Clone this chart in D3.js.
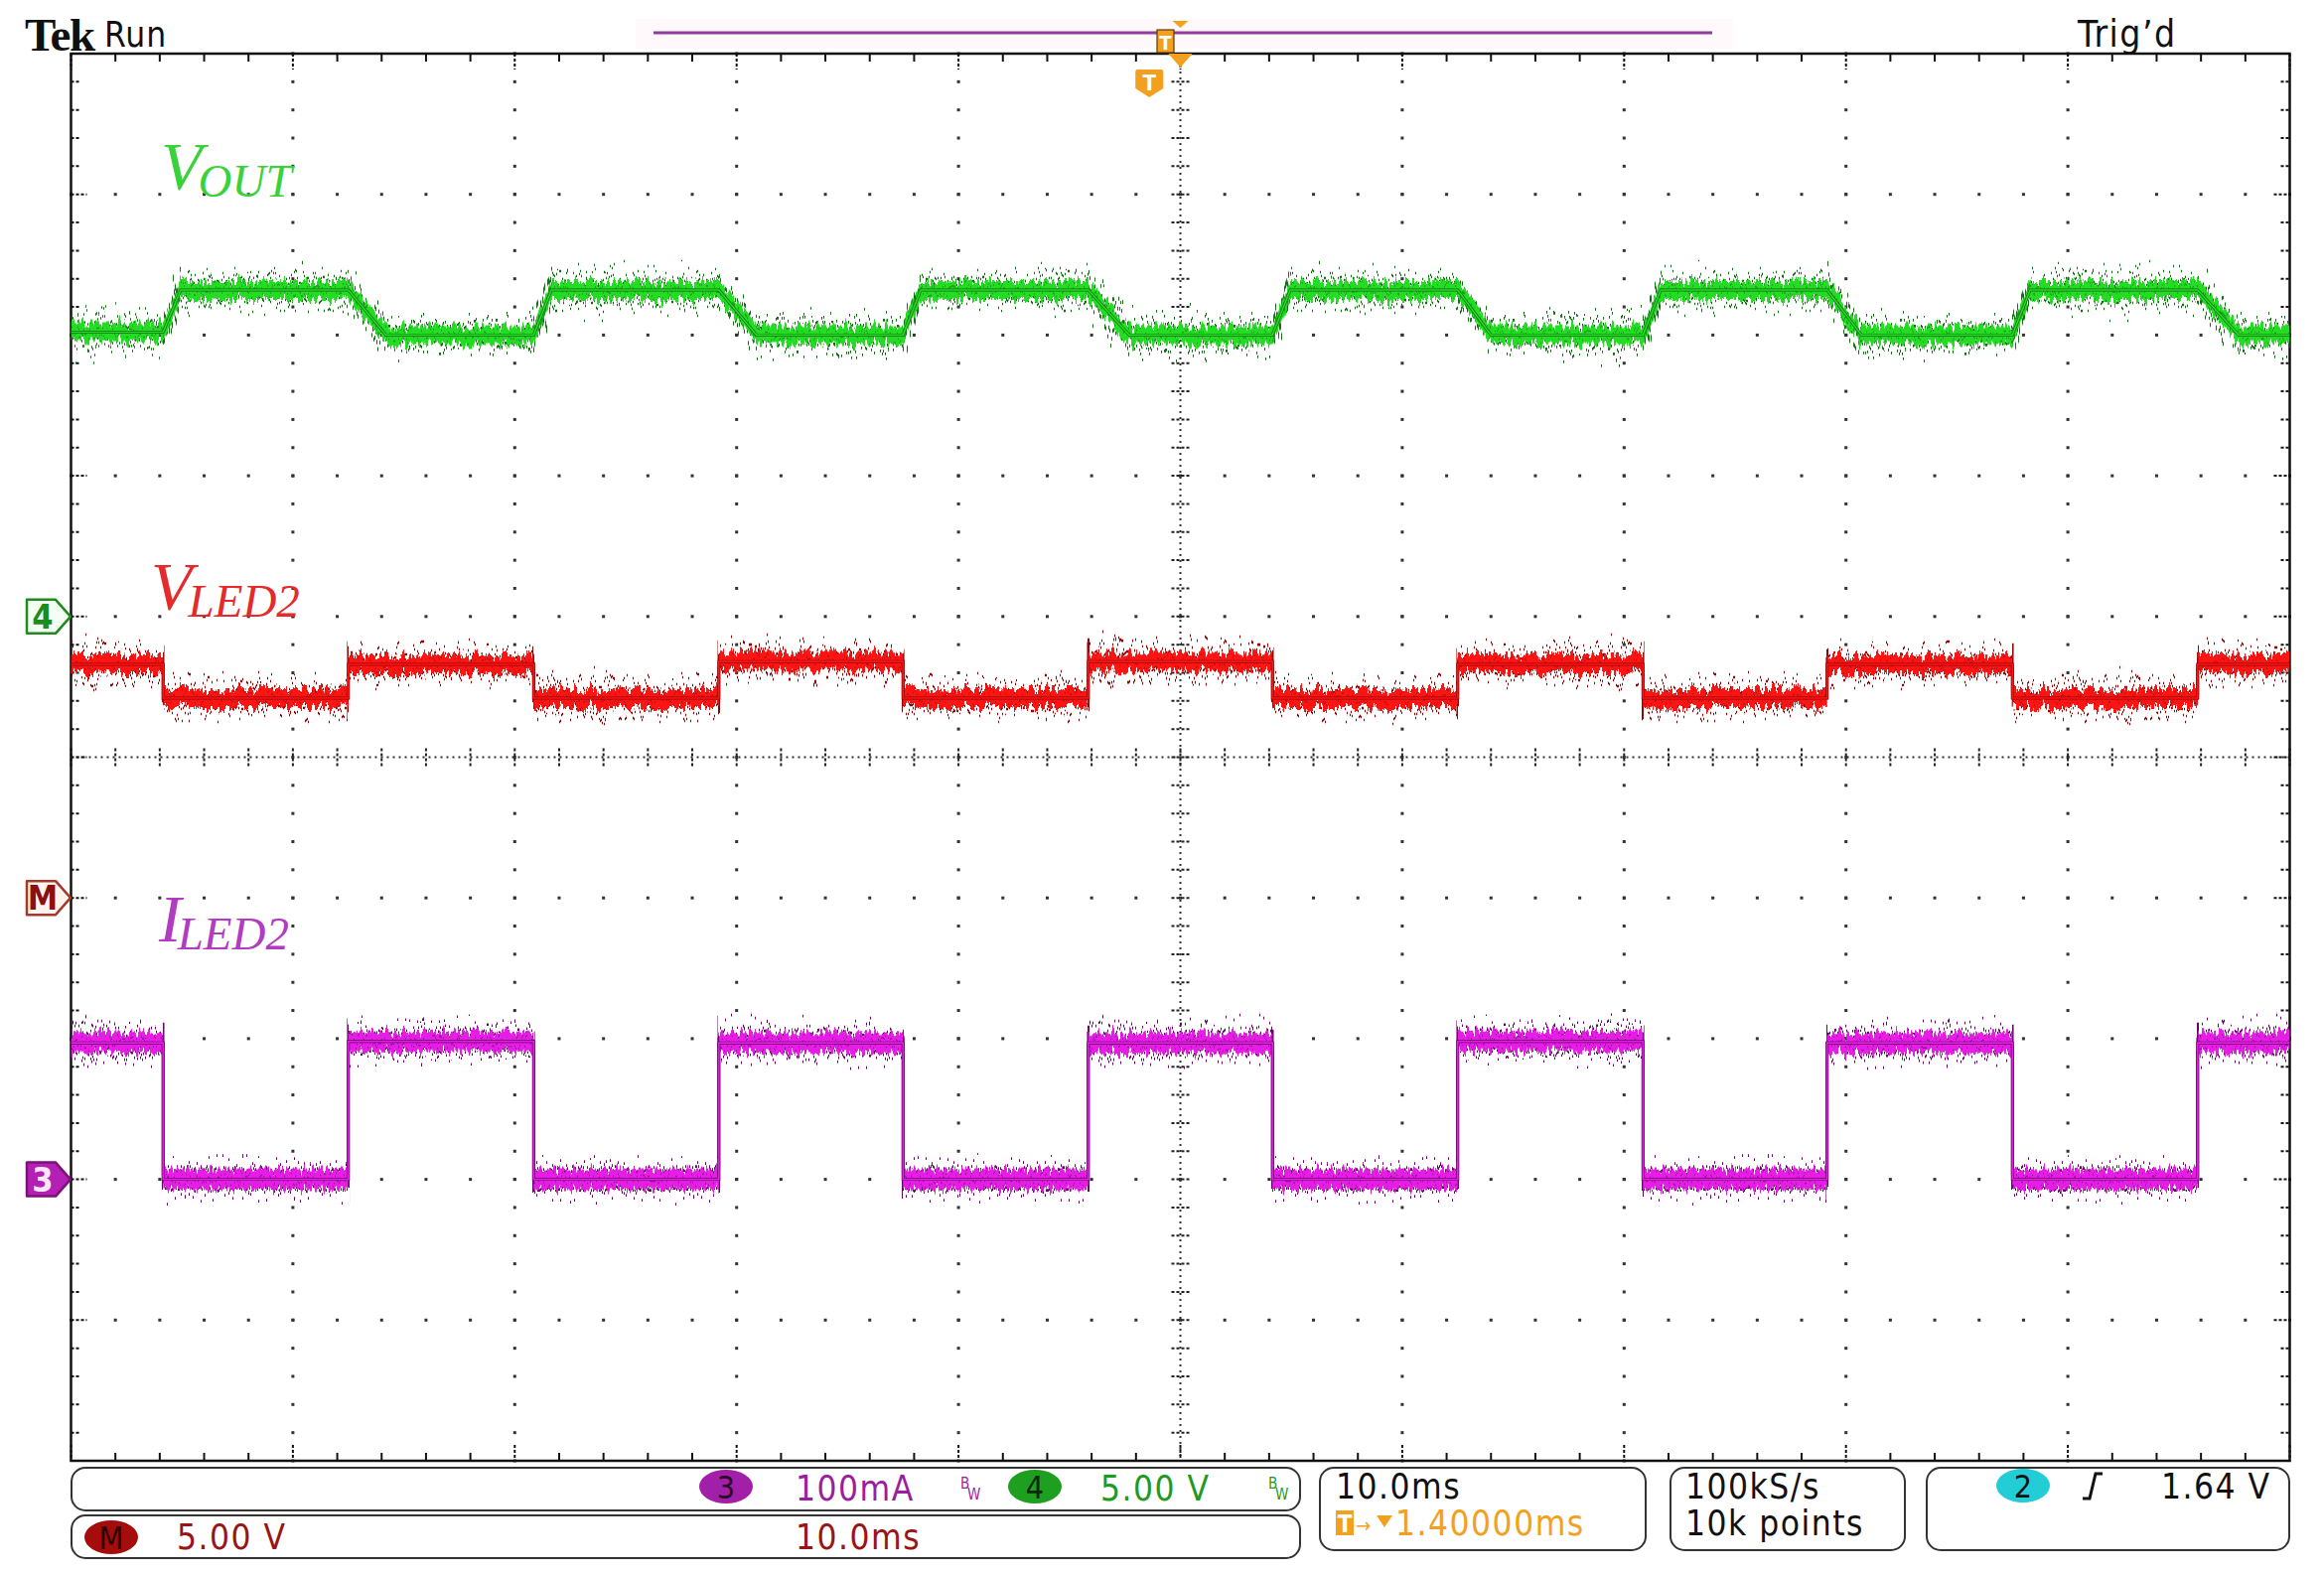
<!DOCTYPE html>
<html><head><meta charset="utf-8">
<script src="https://cdn.jsdelivr.net/npm/d3@7/dist/d3.min.js"></script>
<style>html,body{margin:0;padding:0;background:#fff;} svg{display:block}</style>
</head><body>
<svg id="c" width="2340" height="1584"></svg>
<script>
// ---------------- data ----------------
const timeDomain = [-50, 50];          // ms, 10 ms/div, 10 divisions
const divDomain = [-5, 5];             // vertical divisions
// ILED2 / VLED2 switching edges (ms)
const edgeTimes = [-45.85, -37.5, -29.15, -20.8, -12.5, -4.15, 4.15, 12.5, 20.85, 29.15, 37.5, 45.85];
// per-segment plateau values (13 segments between the edges)
const iledLevels = [97, 0, 98, 0, 97, 0, 97, 0, 98, 0, 97, 0, 97];               // mA (ch3, 100 mA/div)
const vledLevels = [8.3, 7.1, 8.3, 7.1, 8.4, 7.1, 8.4, 7.1, 8.3, 7.1, 8.3, 7.1, 8.3]; // V (Math, 5 V/div)
// VOUT breakpoints (ch4, 5 V/div)
const voutTimes  = [-50, -45.85, -45.05, -37.5, -35.8, -29.15, -28.35, -20.8, -19.1, -12.5, -11.7, -4.15, -2.3, 4.15, 4.95, 12.5, 14.0, 20.85, 21.65, 29.15, 30.7, 37.5, 38.3, 45.85, 47.7, 50];
const voutValues = [10.1, 10.1, 11.6, 11.6, 10.0, 10.0, 11.6, 11.6, 10.0, 10.0, 11.6, 11.6, 10.0, 10.0, 11.6, 11.6, 10.0, 10.0, 11.6, 11.6, 10.0, 10.0, 11.6, 11.6, 10.0, 10.0];
// channel settings
const chScale = {ch3: 100, ch4: 5, math: 5};     // units per division
const chOffset = {ch3: -3, ch4: 1, math: -1};    // ground position (divisions from centre)
// status text
const headerLeft = ["Tek", "Run"];
const headerRight = "Trig’d";
const ch3Label = "100mA", ch4Label = "5.00 V", mathLabel = "5.00 V", mathTime = "10.0ms";
const timebase = "10.0ms", trigPos = "1.40000ms";
const sampleRate = "100kS/s", recordLen = "10k points";
const trigSource = "2", trigLevel = "1.64 V";

// ---------------- layout ----------------
const L = 71.5, R = 2305.5, T = 54, B = 1471;
const svg = d3.select("#c");
svg.append("rect").attr("width", 2340).attr("height", 1584).attr("fill", "#fff");

const x = d3.scaleLinear().domain(timeDomain).range([L, R]);
const yDiv = d3.scaleLinear().domain(divDomain).range([B, T]);
const mk = (ch) => d3.scaleLinear()
  .domain([(divDomain[0] - chOffset[ch]) * chScale[ch], (divDomain[1] - chOffset[ch]) * chScale[ch]])
  .range([B, T]);
const y3 = mk("ch3"), y4 = mk("ch4"), yM = mk("math");

// ---------------- defs ----------------
const defs = svg.append("defs");
defs.append("clipPath").attr("id", "plotClip").append("rect")
  .attr("x", L).attr("y", T).attr("width", R - L).attr("height", B - T);
function noiseFilter(id, freq, scale, seed) {
  const f = defs.append("filter").attr("id", id).attr("filterUnits", "userSpaceOnUse")
    .attr("x", 0).attr("y", 0).attr("width", 2340).attr("height", 1584)
    .attr("color-interpolation-filters", "sRGB");
  f.append("feTurbulence").attr("type", "fractalNoise").attr("baseFrequency", freq)
    .attr("numOctaves", 2).attr("seed", seed).attr("result", "n");
  f.append("feColorMatrix").attr("in", "n").attr("type", "matrix")
    .attr("values", "0 0 0 0 0.5  0 1 0 0 0  0 0 0 0 0  0 0 0 0 1").attr("result", "m");
  f.append("feDisplacementMap").attr("in", "SourceGraphic").attr("in2", "m")
    .attr("scale", scale).attr("xChannelSelector", "R").attr("yChannelSelector", "G");
}
noiseFilter("spk1", "0.5 0.0008", 64, 3);
noiseFilter("spk2", "0.5 0.0008", 64, 11);
noiseFilter("spk3", "0.4 0.0008", 44, 19);
noiseFilter("jit", "0.35 0.0008", 22, 7);

// ---------------- graticule ----------------
const grid = svg.append("g");
const minorT = d3.range(timeDomain[0], timeDomain[1] + 0.001, 2);
const minorD = d3.range(divDomain[0], divDomain[1] + 0.001, 0.2);
const majorT = d3.range(-40, 41, 10).filter(t => t !== 0);
const majorD = d3.range(-4, 5, 1).filter(d => d !== 0);
const dots = [];
majorT.forEach(t => minorD.forEach(d => dots.push([x(t), yDiv(d)])));
majorD.forEach(d => minorT.forEach(t => dots.push([x(t), yDiv(d)])));
grid.selectAll("rect.dot").data(dots).join("rect").attr("class", "dot")
  .attr("x", d => d[0] - 1.5).attr("y", d => d[1] - 1.5).attr("width", 3).attr("height", 3).attr("fill", "#333");
// centre cross
grid.append("line").attr("x1", x(0)).attr("x2", x(0)).attr("y1", T).attr("y2", B)
  .attr("stroke", "#333").attr("stroke-width", 2).attr("stroke-dasharray", "2,4");
grid.append("line").attr("x1", L).attr("x2", R).attr("y1", yDiv(0)).attr("y2", yDiv(0))
  .attr("stroke", "#333").attr("stroke-width", 2).attr("stroke-dasharray", "2,4");
minorD.forEach(d => grid.append("line").attr("x1", x(0) - 9).attr("x2", x(0) + 10).attr("y1", yDiv(d)).attr("y2", yDiv(d))
  .attr("stroke", "#222").attr("stroke-width", 2).attr("stroke-dasharray", "3,2"));
minorT.forEach(t => grid.append("line").attr("y1", yDiv(0) - 9).attr("y2", yDiv(0) + 10).attr("x1", x(t)).attr("x2", x(t))
  .attr("stroke", "#222").attr("stroke-width", 2).attr("stroke-dasharray", "3,2"));
// border ticks
minorT.forEach(t => {
  const major = Math.abs(t % 10) < 0.01;
  const len = major ? 16 : 8;
  grid.append("line").attr("x1", x(t)).attr("x2", x(t)).attr("y1", T).attr("y2", T + len)
    .attr("stroke", "#111").attr("stroke-width", 2).attr("stroke-dasharray", major ? "3,2" : null);
  grid.append("line").attr("x1", x(t)).attr("x2", x(t)).attr("y1", B - len).attr("y2", B)
    .attr("stroke", "#111").attr("stroke-width", 2).attr("stroke-dasharray", major ? "3,2" : null);
});
minorD.forEach(d => {
  const major = Math.abs(d - Math.round(d)) < 0.01;
  const len = major ? 16 : 9;
  grid.append("line").attr("x1", L).attr("x2", L + len).attr("y1", yDiv(d)).attr("y2", yDiv(d))
    .attr("stroke", "#111").attr("stroke-width", 2).attr("stroke-dasharray", "3,2");
  grid.append("line").attr("x1", R - len).attr("x2", R).attr("y1", yDiv(d)).attr("y2", yDiv(d))
    .attr("stroke", "#111").attr("stroke-width", 2).attr("stroke-dasharray", "3,2");
});
grid.append("rect").attr("x", L).attr("y", T).attr("width", R - L).attr("height", B - T)
  .attr("fill", "none").attr("stroke", "#111").attr("stroke-width", 2.5);

// ---------------- traces ----------------
function stepPoints(edges, levels) {
  const pts = [[timeDomain[0], levels[0]]];
  edges.forEach((e, i) => { pts.push([e, levels[i]]); pts.push([e, levels[i + 1]]); });
  pts.push([timeDomain[1], levels[levels.length - 1]]);
  return pts;
}
const iledPts = stepPoints(edgeTimes, iledLevels);
const vledPts = stepPoints(edgeTimes, vledLevels);
const voutPts = voutTimes.map((t, i) => [t, voutValues[i]]);

function drawTrace(pts, ys, bright, dark, band) {
  const g = svg.append("g").attr("clip-path", "url(#plotClip)");
  [[-band / 2 + 1, "spk1"], [band / 2 - 1, "spk2"]].forEach(([off, f]) => {
    g.append("path").datum(pts)
      .attr("d", d3.line().x(d => x(d[0])).y(d => ys(d[1]) + off))
      .attr("fill", "none").attr("stroke", dark).attr("stroke-width", 2.6).attr("filter", `url(#${f})`);
  });
  g.append("path").datum(pts)
    .attr("d", d3.area().x(d => x(d[0])).y0(d => ys(d[1]) + band / 2).y1(d => ys(d[1]) - band / 2))
    .attr("fill", bright).attr("filter", "url(#jit)");
  g.append("path").datum(pts)
    .attr("d", d3.line().x(d => x(d[0])).y(d => ys(d[1])))
    .attr("fill", "none").attr("stroke", dark).attr("stroke-width", 1.5).attr("stroke-opacity", 0.6)
    .attr("filter", "url(#spk3)");
  g.append("path").datum(pts)
    .attr("d", d3.line().x(d => x(d[0])).y(d => ys(d[1])))
    .attr("fill", "none").attr("stroke", dark).attr("stroke-width", 3);
  g.append("path").datum(pts)
    .attr("d", d3.line().x(d => x(d[0])).y(d => ys(d[1])))
    .attr("fill", "none").attr("stroke", bright).attr("stroke-width", 1.6);
}
drawTrace(voutPts, y4, "#24dc24", "#146e14", 18);
drawTrace(vledPts, yM, "#ff1414", "#8e0808", 18);
drawTrace(iledPts, y3, "#e51de5", "#640866", 20);

// ---------------- trace labels ----------------
const serif = "'Liberation Serif', 'DejaVu Serif', serif";
function label(xp, yp, main, sub, color) {
  const t = svg.append("text").attr("x", xp).attr("y", yp).attr("fill", color)
    .attr("font-family", serif).attr("font-style", "italic");
  t.append("tspan").attr("font-size", 68).text(main);
  t.append("tspan").attr("font-size", 47).attr("dy", 8).attr("dx", -4).text(sub);
}
label(162, 190, "V", "OUT", "#3ad23a");
label(152, 613, "V", "LED2", "#e42a2a");
label(160, 948, "I", "LED2", "#b03cc0");

// ---------------- ground markers ----------------
function marker(yp, txt, fill, stroke, tcol) {
  const g = svg.append("g");
  g.append("path").attr("d", `M27,${yp - 17} L56,${yp - 17} L71,${yp} L56,${yp + 17} L27,${yp + 17} Z`)
    .attr("fill", fill).attr("stroke", stroke).attr("stroke-width", 2.5).attr("stroke-linejoin", "round");
  g.append("text").attr("x", 43).attr("y", yp + 12).attr("text-anchor", "middle")
    .attr("font-family", "'DejaVu Sans Condensed', 'DejaVu Sans', sans-serif").attr("font-weight", "bold")
    .attr("font-size", 34).attr("fill", tcol).text(txt);
}
marker(y4(0), "4", "#f2fff2", "#1c8c1c", "#1c8c1c");
marker(yM(0), "M", "#fff3ef", "#a33a2a", "#8a1010");
marker(y3(0), "3", "#b41fb4", "#7a127a", "#ffe6ff");

// ---------------- header ----------------
const cond = "'DejaVu Sans Condensed', 'Liberation Sans Narrow', sans-serif";
svg.append("text").attr("x", 25).attr("y", 51).attr("font-family", serif).attr("font-weight", "bold")
  .attr("font-size", 47).attr("letter-spacing", -1.5).attr("fill", "#111").text(headerLeft[0]);
svg.append("text").attr("x", 105).attr("y", 47).attr("font-family", cond)
  .attr("font-size", 35).attr("letter-spacing", 1).attr("fill", "#111").text(headerLeft[1]);
svg.append("text").attr("x", 2092).attr("y", 47).attr("font-family", cond)
  .attr("font-size", 37).attr("letter-spacing", 1.5).attr("fill", "#111").text(headerRight);
// record view bar
svg.append("rect").attr("x", 640).attr("y", 19).attr("width", 1105).attr("height", 30).attr("fill", "#fff9fb");
svg.append("line").attr("x1", 658).attr("x2", 1724).attr("y1", 33).attr("y2", 33)
  .attr("stroke", "#8e3f9e").attr("stroke-width", 3);
const orange = "#f2a01e";
const trigX = x(-1.4);
// small T on record bar
svg.append("rect").attr("x", 1165).attr("y", 30).attr("width", 17).attr("height", 23)
  .attr("fill", orange).attr("stroke", "#5a3a10").attr("stroke-width", 1.2);
svg.append("text").attr("x", 1173.5).attr("y", 50).attr("text-anchor", "middle").attr("font-family", cond)
  .attr("font-weight", "bold").attr("font-size", 20).attr("fill", "#fff").text("T");
svg.append("path").attr("d", `M${x(0) - 8},21 L${x(0) + 8},21 L${x(0)},28 Z`).attr("fill", orange);
svg.append("path").attr("d", `M${x(0) - 12},54 L${x(0) + 12},54 L${x(0)},68 Z`).attr("fill", orange);
// trigger position shield
svg.append("path").attr("d", `M${trigX - 14},72 Q${trigX - 14},70 ${trigX - 12},70 L${trigX + 12},70 Q${trigX + 14},70 ${trigX + 14},72 L${trigX + 14},89 L${trigX},98 L${trigX - 14},89 Z`)
  .attr("fill", orange);
svg.append("text").attr("x", trigX).attr("y", 91).attr("text-anchor", "middle").attr("font-family", cond)
  .attr("font-weight", "bold").attr("font-size", 22).attr("fill", "#fff").text("T");

// ---------------- status bar ----------------
const sb = svg.append("g").attr("font-family", cond).attr("font-size", 35).attr("letter-spacing", 1.5);
function box(x0, y0, w, h) {
  sb.append("rect").attr("x", x0).attr("y", y0).attr("width", w).attr("height", h).attr("rx", 14).attr("ry", 14)
    .attr("fill", "#fff").attr("stroke", "#333").attr("stroke-width", 2);
}
box(72, 1478, 1237, 43);
box(72, 1526, 1237, 43);
box(1329, 1478, 328, 83);
box(1682, 1478, 236, 83);
box(1940, 1478, 365, 83);
function chip(cx, cy, txt, fill, tcol) {
  sb.append("ellipse").attr("cx", cx).attr("cy", cy).attr("rx", 27).attr("ry", 17).attr("fill", fill);
  sb.append("text").attr("x", cx).attr("y", cy + 12).attr("text-anchor", "middle").attr("font-size", 32)
    .attr("letter-spacing", 0).attr("fill", tcol).text(txt);
}
function bw(x0, y0, col) {
  sb.append("text").attr("x", x0).attr("y", y0 - 9).attr("font-size", 15).attr("letter-spacing", 0).attr("fill", col).text("B");
  sb.append("text").attr("x", x0 + 7).attr("y", y0 + 2).attr("font-size", 15).attr("letter-spacing", 0).attr("fill", col).text("W");
}
chip(731, 1497, "3", "#a21fa8", "#2a0a2a");
sb.append("text").attr("x", 801).attr("y", 1511).attr("fill", "#9a1fa0").text(ch3Label);
bw(967, 1508, "#9a1fa0");
chip(1042, 1497, "4", "#1f9f1f", "#0a2a0a");
sb.append("text").attr("x", 1108).attr("y", 1511).attr("fill", "#1f9a1f").text(ch4Label);
bw(1277, 1508, "#1f9a1f");
chip(112, 1548, "M", "#a50d0d", "#2a0000");
sb.append("text").attr("x", 178).attr("y", 1560).attr("fill", "#9a1414").text(mathLabel);
sb.append("text").attr("x", 801).attr("y", 1560).attr("fill", "#9a1414").text(mathTime);
sb.append("text").attr("x", 1345).attr("y", 1509).attr("fill", "#111").text(timebase);
sb.append("rect").attr("x", 1345).attr("y", 1521).attr("width", 18).attr("height", 25).attr("fill", orange);
sb.append("text").attr("x", 1354).attr("y", 1543).attr("text-anchor", "middle").attr("font-size", 24)
  .attr("letter-spacing", 0).attr("font-weight", "bold").attr("fill", "#fff").text("T");
sb.append("text").attr("x", 1365).attr("y", 1543).attr("font-size", 20).attr("fill", orange).text("→");
sb.append("path").attr("d", "M1386,1526 L1402,1526 L1394,1538 Z").attr("fill", orange);
sb.append("text").attr("x", 1405).attr("y", 1546).attr("fill", orange).text(trigPos);
sb.append("text").attr("x", 1697).attr("y", 1509).attr("fill", "#111").text(sampleRate);
sb.append("text").attr("x", 1697).attr("y", 1546).attr("fill", "#111").text(recordLen);
chip(2037, 1496, trigSource, "#22cdd6", "#111");
sb.append("path").attr("d", "M2097,1509 L2104,1509 L2110,1484 L2117,1484").attr("fill", "none")
  .attr("stroke", "#111").attr("stroke-width", 3);
sb.append("text").attr("x", 2176).attr("y", 1509).attr("fill", "#111").text(trigLevel);
</script>
</body></html>
